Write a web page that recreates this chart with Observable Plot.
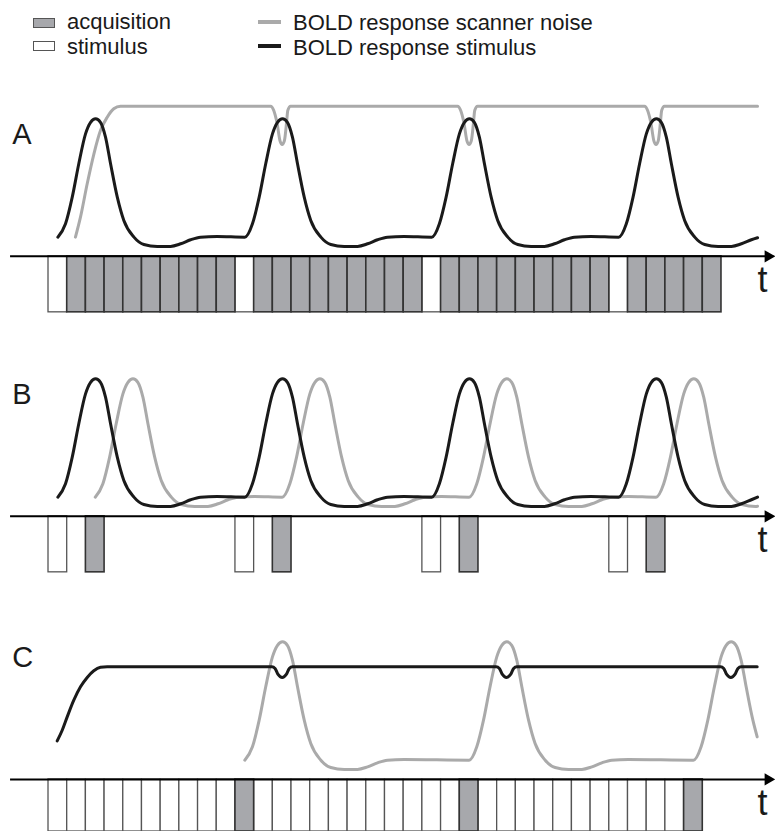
<!DOCTYPE html>
<html>
<head>
<meta charset="utf-8">
<script src="https://cdn.jsdelivr.net/npm/d3@7"></script>
<script src="https://cdn.jsdelivr.net/npm/@observablehq/plot@0.6"></script>
<style>
  body { margin: 0; background: #fff; }
  #page {
    position: relative; width: 775px; height: 831px; overflow: hidden;
    font-family: "Liberation Sans", Arial, Helvetica, sans-serif; color: #1a1a1a;
  }
  .panel { position: absolute; left: 0; }
  .panel svg { display: block; }
  .legend-text { position: absolute; font-size: 22px; line-height: 22px; white-space: nowrap; }
  .swatch { position: absolute; box-sizing: border-box; }
</style>
</head>
<body>
<div id="page">
  <div class="swatch" style="left:33px;top:18px;width:22px;height:10px;background:#a7a8ac;border:1px solid #555"></div>
  <div class="legend-text" style="left:67px;top:10.5px">acquisition</div>
  <div class="swatch" style="left:33px;top:41px;width:22px;height:10px;background:#fff;border:1px solid #555"></div>
  <div class="legend-text" style="left:67px;top:35.5px">stimulus</div>
  <div class="swatch" style="left:258px;top:20px;width:23px;height:4px;background:#aaaaaa"></div>
  <div class="legend-text" style="left:293px;top:11.5px">BOLD response scanner noise</div>
  <div class="swatch" style="left:258px;top:44px;width:23px;height:4px;background:#1a1a1a"></div>
  <div class="legend-text" style="left:293px;top:36.5px">BOLD response stimulus</div>
  <div class="panel" id="panelA" style="top:60px"></div>
  <div class="panel" id="panelB" style="top:320px"></div>
  <div class="panel" id="panelC" style="top:583px"></div>
</div>
<script>
// Time runs in acquisition slots: each box below the time axis is one slot wide.

// A: continuous acquisition, stimulus every tenth slot
const stimulusA = [0, 10, 20, 30];
const acquisitionA = [1, 2, 3, 4, 5, 6, 7, 8, 9,
                      11, 12, 13, 14, 15, 16, 17, 18, 19,
                      21, 22, 23, 24, 25, 26, 27, 28, 29,
                      31, 32, 33, 34, 35];

// B: sparse acquisition, two slots after each stimulus
const stimulusB = [0, 10, 20, 30];
const acquisitionB = [2, 12, 22, 32];

// C: continuous stimulation, one acquisition every twelfth slot
const stimulusC = [0, 1, 2, 3, 4, 5, 6, 7, 8, 9,
                   11, 12, 13, 14, 15, 16, 17, 18, 19, 20, 21,
                   23, 24, 25, 26, 27, 28, 29, 30, 31, 32, 33];
const acquisitionC = [10, 22, 34];

// Hemodynamic response: [slots after onset, amplitude relative to peak]
const hrfShape = [
  [0, 0], [0.41, 0.113], [0.77, 0.338], [1.12, 0.62], [1.48, 0.872],
  [1.75, 0.97], [2.02, 1], [2.28, 0.97], [2.55, 0.845], [2.82, 0.62],
  [3.18, 0.338], [3.53, 0.141], [4.07, 0], [4.6, -0.062], [5.32, -0.078],
  [6.03, -0.078], [6.57, -0.056], [7.1, -0.022], [7.63, 0], [8.52, 0.006]
];

// Response onsets (slots)
const stimulusOnsetsA = [0.5, 10.5, 20.5, 30.5];
const stimulusOnsetsB = [0.5, 10.5, 20.5, 30.5];
const noiseOnsetsB = [2.5, 12.5, 22.5, 32.5];
const noiseOnsetsC = [10.5, 22.5, 34.5];

// A: scanner-noise response saturates, with a brief dip at each quiet slot
const noiseRiseA = [[1.44, 0], [1.71, 0.169], [2.07, 0.451], [2.43, 0.704],
                    [2.78, 0.9], [3.14, 1.013], [3.49, 1.084], [3.85, 1.106]];
const noiseLevelA = 1.106;
const noiseDipTimesA = [12.5, 22.5, 32.5];
const noiseDipA = [[-0.62, 0], [-0.45, 0.036], [-0.27, 0.146], [-0.12, 0.29],
                   [0, 0.324], [0.12, 0.29], [0.23, 0.146], [0.3, 0.036], [0.45, 0]];

// C: stimulus response saturates, with a small dip after each acquisition
const stimRiseC = [[0.465, 0.163], [0.733, 0.253], [1.0, 0.366], [1.353, 0.507],
                   [1.712, 0.62], [2.07, 0.699], [2.423, 0.755], [2.78, 0.784], [3.14, 0.789]];
const stimLevelC = 0.789;
const stimDipTimesC = [12.5, 24.5, 36.5];
const stimDipC = [[-0.55, 0], [-0.38, 0.015], [-0.22, 0.065], [0, 0.09],
                  [0.22, 0.065], [0.38, 0.015], [0.55, 0]];

// Where each trace stops: [slot, amplitude]
const endStimA = [37.93, -0.005];
const endNoiseA = [37.93, 1.106];
const endStimB = [37.93, 0];
const endNoiseB = [37.93, -0.076];
const endStimC = [37.91, 0.789];
const endNoiseC = [37.91, 0.197];

// Layout levels in amplitude units
const axisLevel = -0.162;
const boxBottom = -0.635;
const xDomain = [-2.568, 38.89];
const axisStart = -2.03;
const axisEnd = 38.4;
const arrowAt = 38.5;
const tLabelAt = [38.19, -0.245];
const panelLabelAt = [-1.94, 0.962];

const GRAY_LINE = "#aaaaaa";
const BLACK_LINE = "#1a1a1a";
const BOX_FILL = "#a7a8ac";

function responseTrain(onsets, end) {
  const pts = [];
  onsets.forEach((t0, i) => {
    const next = i + 1 < onsets.length ? onsets[i + 1] : end[0];
    for (const [dt, v] of hrfShape) if (t0 + dt < next) pts.push({t: t0 + dt, v});
  });
  pts.push({t: end[0], v: end[1]});
  return pts;
}

function plateauWithDips(rise, level, dipTimes, dip, end) {
  const pts = rise.map(([t, v]) => ({t, v}));
  for (const tc of dipTimes)
    for (const [dt, d] of dip) if (tc + dt <= end[0]) pts.push({t: tc + dt, v: level - d});
  pts.push({t: end[0], v: end[1]});
  return pts;
}

function panel({label, stimulus, acquisition, noise, stim, height, yMin}) {
  const lineStyle = {x: "t", y: "v", strokeWidth: 3, curve: "monotone-x",
                     strokeLinejoin: "round", strokeLinecap: "round"};
  return Plot.plot({
    width: 775,
    height,
    margin: 0,
    style: {fontFamily: "'Liberation Sans', Arial, Helvetica, sans-serif", background: "#fff"},
    x: {domain: xDomain, axis: null},
    y: {domain: [yMin, 1.492], axis: null},
    marks: [
      Plot.rect(stimulus, {x1: d => d, x2: d => d + 1, y1: () => axisLevel,
                           y2: () => Math.max(boxBottom, yMin), fill: "#fff",
                           stroke: "#555", strokeWidth: 1.3}),
      Plot.rect(acquisition, {x1: d => d, x2: d => d + 1, y1: () => axisLevel,
                              y2: () => Math.max(boxBottom, yMin), fill: BOX_FILL,
                              stroke: "#333", strokeWidth: 1.6}),
      Plot.ruleY([axisLevel], {x1: () => axisStart, x2: () => axisEnd,
                               stroke: "#000", strokeWidth: 2}),
      Plot.dot([axisLevel], {x: () => arrowAt, y: d => d, symbol: "triangle",
                             r: 4.6, fill: "#000", stroke: "none", rotate: 90}),
      Plot.text(["t"], {x: () => tLabelAt[0], y: () => tLabelAt[1], fontSize: 36,
                        textAnchor: "middle", lineAnchor: "top", fill: "#1a1a1a"}),
      Plot.text([label], {x: () => panelLabelAt[0], y: () => panelLabelAt[1], fontSize: 29,
                          textAnchor: "start", lineAnchor: "top", fill: "#1a1a1a"}),
      Plot.line(noise, {...lineStyle, stroke: GRAY_LINE}),
      Plot.line(stim, {...lineStyle, stroke: BLACK_LINE})
    ]
  });
}

document.getElementById("panelA").append(panel({
  label: "A", stimulus: stimulusA, acquisition: acquisitionA,
  noise: plateauWithDips(noiseRiseA, noiseLevelA, noiseDipTimesA, noiseDipA, endNoiseA),
  stim: responseTrain(stimulusOnsetsA, endStimA),
  height: 260, yMin: -0.704
}));

document.getElementById("panelB").append(panel({
  label: "B", stimulus: stimulusB, acquisition: acquisitionB,
  noise: responseTrain(noiseOnsetsB, endNoiseB),
  stim: responseTrain(stimulusOnsetsB, endStimB),
  height: 260, yMin: -0.704
}));

document.getElementById("panelC").append(panel({
  label: "C", stimulus: stimulusC, acquisition: acquisitionC,
  noise: responseTrain(noiseOnsetsC, endNoiseC),
  stim: plateauWithDips(stimRiseC, stimLevelC, stimDipTimesC, stimDipC, endStimC),
  height: 248, yMin: -0.602
}));
</script>
</body>
</html>
